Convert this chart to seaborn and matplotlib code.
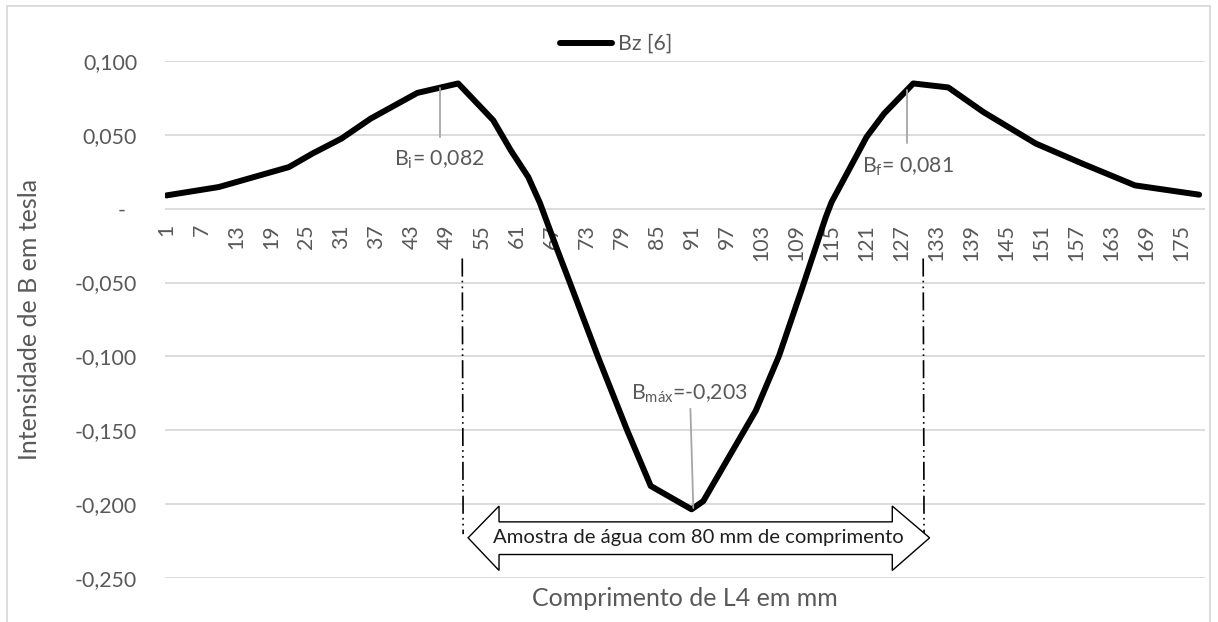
import matplotlib
matplotlib.use("Agg")
import matplotlib.pyplot as plt
import seaborn as sns
import pandas as pd
from matplotlib.patches import Polygon, Rectangle

# ---------------- data ----------------
position_mm = [1, 10, 22, 26, 31, 36, 44, 51, 57, 60, 63, 65, 68, 70, 75, 80,
               84, 91, 93, 102, 106, 110, 114, 115, 121, 124, 129, 135, 141,
               150, 158, 167, 178]
bz_tesla = [0.0090, 0.0147, 0.0282, 0.0373, 0.0475, 0.0610, 0.0784, 0.0848,
            0.0599, 0.0396, 0.0215, 0.0040, -0.0280, -0.0486, -0.1007, -0.1504,
            -0.1877, -0.2035, -0.1980, -0.1368, -0.0995, -0.0532, -0.0057,
            0.0045, 0.0486, 0.0644, 0.0848, 0.0821, 0.0655, 0.0441, 0.0305,
            0.0158, 0.0095]
series_name = "Bz [6]"

x_tick_values = list(range(1, 176, 6))
y_tick_values = [0.100, 0.050, 0.0, -0.050, -0.100, -0.150, -0.200, -0.250]
y_tick_labels = ["0,100", "0,050", "-  ", "-0,050", "-0,100", "-0,150", "-0,200", "-0,250"]

x_title = "Comprimento de L4 em mm"
y_title = "Intensidade de B em tesla"

# annotation labels: text, leader x, leader y, text position
label_texts = [r"B$_{\mathregular{i}}$= 0,082", r"B$_{\mathregular{f}}$= 0,081",
               r"B$_{\mathregular{máx}}$=-0,203"]
label_leader_x = [(47.9, 47.9), (128.0, 128.0), (90.8, 91.3)]
label_leader_y = [(0.0816, 0.0484), (0.0803, 0.0443), (-0.1355, -0.2026)]
label_text_xy = [(47.8, 0.0330), (128.1, 0.0285), (90.7, -0.1255)]

sample_text = "Amostra de água com 80 mm de comprimento"
sample_start, sample_end = 51.7, 130.7

# ---------------- style ----------------
sns.set_theme(style="white")
plt.rcParams["font.family"] = ["Lato", "DejaVu Sans"]
plt.rcParams["mathtext.fontset"] = "custom"
plt.rcParams["mathtext.rm"] = "Lato"
plt.rcParams["mathtext.it"] = "Lato:italic"
plt.rcParams["mathtext.bf"] = "Lato:bold"
plt.rcParams["lines.scale_dashes"] = False

TXT = "#595959"
GRID = "#d9d9d9"

W, H = 1218, 622
fig = plt.figure(figsize=(W / 100, H / 100), dpi=100)
ax_left, ax_right, ax_top, ax_bottom = 165, 1205, 61, 578
ax = fig.add_axes([ax_left / W, 1 - ax_bottom / H, (ax_right - ax_left) / W, (ax_bottom - ax_top) / H])

df = pd.DataFrame({"pos": position_mm, "bz": bz_tesla})
sns.lineplot(data=df, x="pos", y="bz", ax=ax, color="black", linewidth=4.3,
             label=series_name, solid_capstyle="round", solid_joinstyle="round",
             zorder=3)

for s in ax.spines.values():
    s.set_visible(False)
ax.spines["bottom"].set_position(("data", 0))

ax.set_xlim(0.75, 179)
ax.set_ylim(-0.25, 0.10)
ax.set_yticks(y_tick_values)
ax.set_yticklabels(y_tick_labels)
ax.set_xticks(x_tick_values)
ax.set_xticklabels([str(v) for v in x_tick_values])

ax.yaxis.grid(True, color=GRID, linewidth=1.3, zorder=0)
ax.xaxis.grid(False)
ax.set_axisbelow(True)
ax.tick_params(axis="x", length=0, pad=11, labelsize=15.3, labelcolor=TXT, labelrotation=90)
ax.tick_params(axis="y", length=0, pad=20, labelsize=15.3, labelcolor=TXT)

ax.set_xlabel("")
ax.set_ylabel("")
fig.text((ax_left + ax_right) / 2 / W, 1 - 598 / H, x_title, ha="center", va="center",
         fontsize=18, color=TXT)
fig.text(30 / W, 1 - 319 / H, y_title, ha="center", va="center", rotation=90,
         fontsize=18, color=TXT)

# legend
leg = ax.legend(loc="center", bbox_to_anchor=(616 / W, 1 - 44 / H),
                bbox_transform=fig.transFigure, frameon=False, fontsize=15.3,
                handlelength=2.45, handletextpad=0.25, borderpad=0)
for t in leg.get_texts():
    t.set_color(TXT)
for h in leg.get_lines():
    h.set_solid_capstyle("round")
    h.set_linewidth(4.3)

# data labels with leader lines
for txt, lx, ly, (tx, ty) in zip(label_texts, label_leader_x, label_leader_y, label_text_xy):
    ax.plot(lx, ly, color="#a6a6a6", linewidth=1.3, zorder=4)
    ax.text(tx, ty, txt, ha="center", va="center", fontsize=15.3, color=TXT, zorder=5)

# dash-dot-dot boundary lines of the sample
for xb in (sample_start, sample_end):
    ax.plot([xb, xb + 0.15], [-0.0337, -0.2203], color="black", linewidth=1.2,
            linestyle=(0, (13, 3, 1.2, 3, 1.2, 3)), zorder=4, clip_on=False)

# double block arrow
tipL, tipR = sample_start + 1.0, sample_end + 1.1
hbL, hbR = sample_start + 6.3, sample_end - 5.3
yc, yh_top, yh_bot, ys_top, ys_bot = -0.2228, -0.2013, -0.2449, -0.2120, -0.2341
arrow = Polygon([(tipL, yc), (hbL, yh_top), (hbL, ys_top), (hbR, ys_top), (hbR, yh_top),
                 (tipR, yc), (hbR, yh_bot), (hbR, ys_bot), (hbL, ys_bot), (hbL, yh_bot)],
                closed=True, facecolor="white", edgecolor="black", linewidth=1.0,
                zorder=6, clip_on=False)
ax.add_patch(arrow)
ax.text((tipL + tipR) / 2, yc, sample_text, ha="center", va="center", fontsize=14.6,
        color="#1f1f1f", zorder=7)

# chart-area border
fig.patches.append(Rectangle((7 / W, -0.05), (1210 - 7) / W, 1 - 6 / H + 0.05,
                             transform=fig.transFigure, fill=False, edgecolor=GRID,
                             linewidth=1.3, zorder=0))

fig.savefig("out.png", dpi=100)
